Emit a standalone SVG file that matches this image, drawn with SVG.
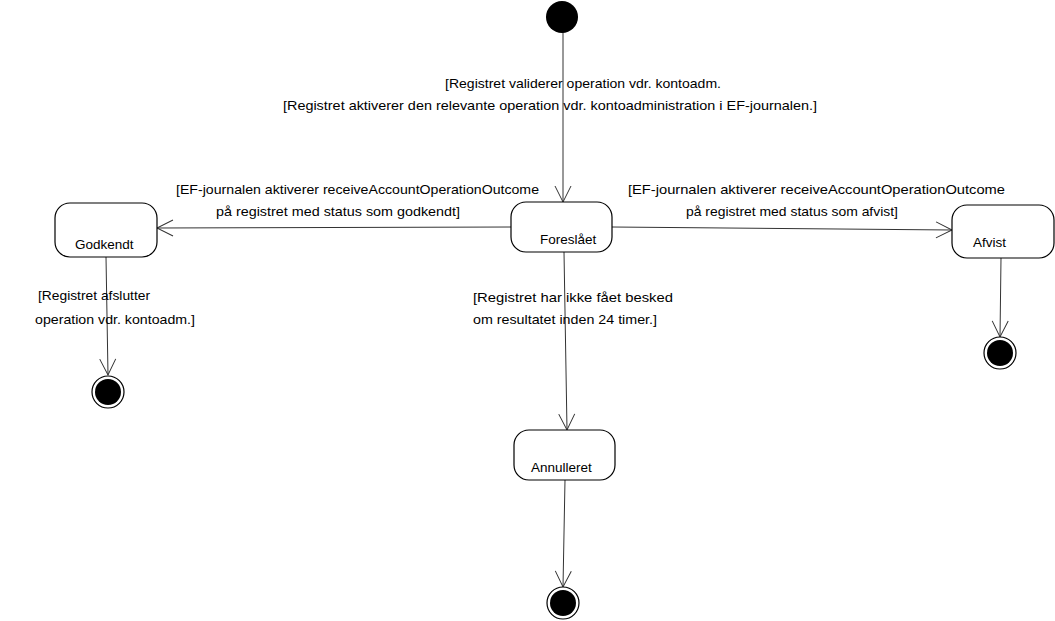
<svg xmlns="http://www.w3.org/2000/svg" width="1055" height="621" viewBox="0 0 1055 621">
<style>
text{font-family:"Liberation Sans",Arial,sans-serif;font-size:13.5px;fill:#000}
.st{fill:#fff;stroke:#000;stroke-width:1.2}
.ln{fill:none;stroke:#333;stroke-width:1}
.fin-o{fill:#fff;stroke:#000;stroke-width:1.2}
.fin-i{fill:#000}
</style>
<defs>
<marker id="open" viewBox="0 0 20 20" refX="18" refY="10" markerWidth="20" markerHeight="20" markerUnits="userSpaceOnUse" orient="auto">
<path d="M2 2 L18 10 L2 18" fill="none" stroke="#333" stroke-width="1"/>
</marker>
</defs>
<rect width="1055" height="621" fill="#fff"/>
<g id="connectors">
<line class="ln" x1="563" y1="32" x2="563" y2="202" marker-end="url(#open)"/>
<line class="ln" x1="511" y1="227" x2="157" y2="228" marker-end="url(#open)"/>
<line class="ln" x1="612" y1="227" x2="952" y2="230" marker-end="url(#open)"/>
<line class="ln" x1="106" y1="257" x2="108" y2="375" marker-end="url(#open)"/>
<line class="ln" x1="564" y1="252" x2="567" y2="430" marker-end="url(#open)"/>
<line class="ln" x1="565" y1="480" x2="563" y2="587" marker-end="url(#open)"/>
<line class="ln" x1="1001" y1="258" x2="1000" y2="337" marker-end="url(#open)"/>
<text x="445" y="88" textLength="276" lengthAdjust="spacingAndGlyphs">[Registret validerer operation vdr. kontoadm.</text>
<text x="283" y="110" textLength="534" lengthAdjust="spacingAndGlyphs">[Registret aktiverer den relevante operation vdr. kontoadministration i EF-journalen.]</text>
<text x="176" y="194" textLength="363" lengthAdjust="spacingAndGlyphs">[EF-journalen aktiverer receiveAccountOperationOutcome</text>
<text x="216" y="216" textLength="244" lengthAdjust="spacingAndGlyphs">på registret med status som godkendt]</text>
<text x="628" y="194" textLength="377" lengthAdjust="spacingAndGlyphs">[EF-journalen aktiverer receiveAccountOperationOutcome</text>
<text x="686" y="216" textLength="212" lengthAdjust="spacingAndGlyphs">på registret med status som afvist]</text>
<text x="38" y="300" textLength="112" lengthAdjust="spacingAndGlyphs">[Registret afslutter</text>
<text x="35" y="324" textLength="160" lengthAdjust="spacingAndGlyphs">operation vdr. kontoadm.]</text>
<text x="473" y="302" textLength="200" lengthAdjust="spacingAndGlyphs">[Registret har ikke fået besked</text>
<text x="473" y="324" textLength="184" lengthAdjust="spacingAndGlyphs">om resultatet inden 24 timer.]</text>
</g>
<g id="start"><circle cx="562" cy="17" r="16" fill="#000"/></g>
<g id="foreslaaet"><rect class="st" x="511" y="202" width="101" height="50" rx="15"/><text x="540" y="244">Foreslået</text></g>
<g id="godkendt"><rect class="st" x="55" y="203" width="102" height="54" rx="15"/><text x="75" y="249">Godkendt</text></g>
<g id="afvist"><rect class="st" x="952" y="205" width="102" height="53" rx="15"/><text x="973" y="247">Afvist</text></g>
<g id="annulleret"><rect class="st" x="514" y="430" width="101" height="50" rx="15"/><text x="531" y="472">Annulleret</text></g>
<g id="end-godkendt"><circle class="fin-o" cx="108" cy="392" r="16"/><circle class="fin-i" cx="108" cy="392" r="13"/></g>
<g id="end-afvist"><circle class="fin-o" cx="1000" cy="353" r="16"/><circle class="fin-i" cx="1000" cy="353" r="13"/></g>
<g id="end-annulleret"><circle class="fin-o" cx="563" cy="603" r="16"/><circle class="fin-i" cx="563" cy="603" r="13"/></g>
</svg>
